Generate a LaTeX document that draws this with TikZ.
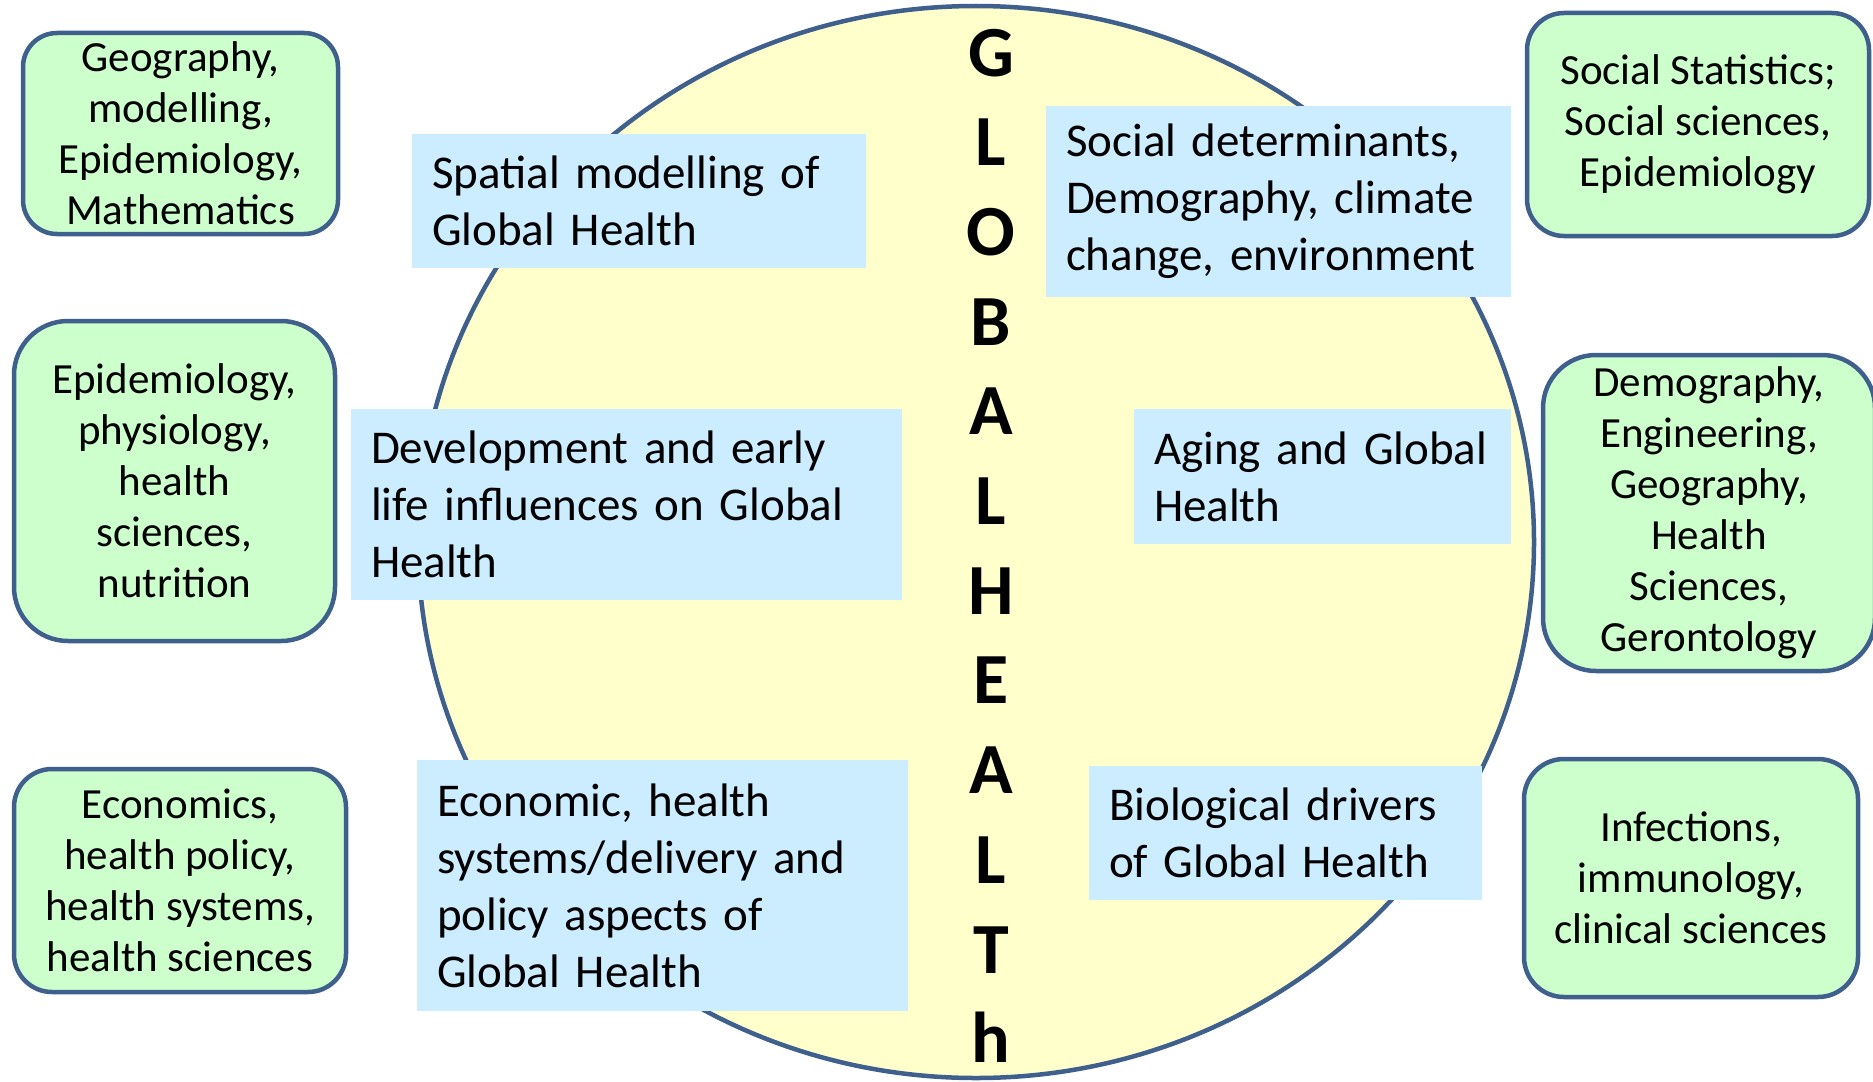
\documentclass[tikz,border=0pt]{standalone}
\usepackage{fontspec}
\setmainfont{Carlito}
\usetikzlibrary{positioning}
\definecolor{Edge}{HTML}{3F5F8C}
\definecolor{Globe}{HTML}{FFFFCC}
\definecolor{Topic}{HTML}{CCECFF}
\definecolor{Field}{HTML}{CCFFCC}

\tikzset{
  topic/.style={fill=Topic, inner xsep=20pt, inner ysep=0pt, align=left,
    font=\fontsize{47}{57}\selectfont},
  field/.style={fill=Field, draw=Edge, line width=4.5pt, rounded corners=#1,
    align=center, inner sep=0pt, font=\fontsize{43}{51}\selectfont},
  letter/.style={anchor=base, inner sep=0pt, font=\fontsize{72}{72}\selectfont\bfseries}
}

\begin{document}
\begin{tikzpicture}[x=1pt,y=-1pt]
  \useasboundingbox (0,0) rectangle (1873,1081);
  \draw[fill=Globe, draw=Edge, line width=4.5pt] (976,542) ellipse [x radius=558pt, y radius=536pt];

  % research themes
  \node[topic, text width=414pt, minimum height=134pt] (spatial) at (639,201)
    {Spatial modelling of Global Health};
  \node[topic, text width=425pt, minimum height=191pt] (social) at (1278.5,201.5)
    {Social determinants,\\Demography, climate\\change, environment};
  \node[topic, text width=511pt, minimum height=191pt] (develop) at (626.5,504.5)
    {Development and early\\life influences on Global\\Health};
  \node[topic, text width=337pt, minimum height=135pt] (aging) at (1322.5,476.5)
    {Aging and Global\\Health};
  \node[topic, text width=451pt, minimum height=251pt] (economic) at (662.5,885.5)
    {Economic, health\\systems/delivery and\\policy aspects of\\Global Health};
  \node[topic, text width=353pt, minimum height=134pt] (biology) at (1285.5,833)
    {Biological drivers\\of Global Health};

  % disciplines
  \node[field=34pt, minimum width=315pt, minimum height=201pt] (geo) at (180.5,133.5)
    {Geography,\\modelling,\\Epidemiology,\\Mathematics};
  \node[field=37pt, minimum width=342pt, minimum height=223pt] (stats) at (1698,124.5)
    {Social Statistics;\\Social sciences,\\Epidemiology};
  \node[field=54pt, minimum width=321pt, minimum height=320pt] (physio) at (174.5,481)
    {Epidemiology,\\physiology,\\health\\sciences,\\nutrition};
  \node[field=53pt, minimum width=332pt, minimum height=316pt] (geronto) at (1709,513)
    {Demography,\\Engineering,\\Geography,\\Health\\Sciences,\\Gerontology};
  \node[field=38pt, minimum width=332pt, minimum height=223pt] (econ) at (180,880.5)
    {Economics,\\health policy,\\health systems,\\health sciences};
  \node[field=40pt, minimum width=334pt, minimum height=238pt] (infect) at (1691,878)
    {Infections,\\immunology,\\clinical sciences};

  % vertical title
  \foreach \ch [count=\i from 0] in {G,L,O,B,A,L,H,E,A,L,T,h}
    \node[letter] (title\i) at (991,76+89.7*\i) {\ch};
\end{tikzpicture}
\end{document}
